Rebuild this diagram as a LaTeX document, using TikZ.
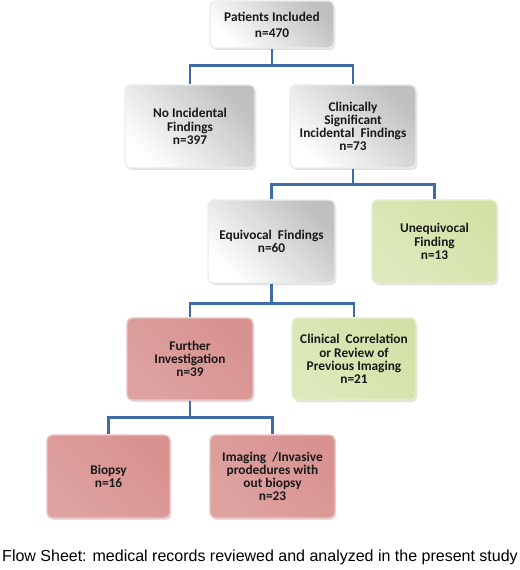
\documentclass[tikz,border=0pt]{standalone}
\usepackage{fontspec}
\setmainfont{Carlito}
\newfontfamily\capfont{Liberation Sans}
\usetikzlibrary{positioning,shadows}
\definecolor{lineblue}{RGB}{62,108,168}
\definecolor{boxgrey}{RGB}{192,192,192}
\definecolor{boxgreen}{RGB}{210,226,166}
\definecolor{boxpink}{RGB}{216,146,144}

\begin{document}
\begin{tikzpicture}[x=0.75pt,y=-0.75pt,
  box/.style={rounded corners=4pt,align=center,font=\fontsize{10}{9.9}\selectfont\bfseries,
    text=black!90,line width=1pt,drop shadow={opacity=0.25,shadow xshift=1pt,shadow yshift=-1.5pt}},
  greybox/.style={box,draw=white!85!gray,left color=white,right color=boxgrey,shading angle=135},
  greenbox/.style={box,draw=boxgreen!55!white,left color=boxgreen!75!white,right color=boxgreen,shading angle=135},
  pinkbox/.style={box,draw=boxpink!55!white,left color=boxpink!85!white,right color=boxpink,shading angle=135},
  link/.style={lineblue,line width=2pt}]
\useasboundingbox (0,0) rectangle (520,570);
% level 1
\node[greybox,minimum width=124*0.75pt,minimum height=47*0.75pt] (incl) at (272,24.5) {Patients Included\\[2pt]n=470};
% level 2
\node[greybox,minimum width=130*0.75pt,minimum height=83*0.75pt] (noinc) at (190,126.5) {No Incidental\\Findings\\n=397};
\node[greybox,minimum width=126*0.75pt,minimum height=83*0.75pt] (clin) at (353,126.5) {Clinically\\Significant\\Incidental\ \ Findings\\n=73};
% level 3
\node[greybox,minimum width=127*0.75pt,minimum height=83*0.75pt] (equiv) at (271.5,241.5) {Equivocal\ \ Findings\\n=60};
\node[greenbox,minimum width=125*0.75pt,minimum height=83*0.75pt] (unequiv) at (434.5,241.5) {Unequivocal\\Finding\\n=13};
% level 4
\node[pinkbox,minimum width=126*0.75pt,minimum height=82*0.75pt] (further) at (190,359) {Further\\Investigation\\n=39};
\node[greenbox,minimum width=124*0.75pt,minimum height=82*0.75pt] (corr) at (354,359) {Clinical\ \ Correlation\\or Review of\\Previous Imaging\\n=21};
% level 5
\node[pinkbox,minimum width=123*0.75pt,minimum height=83*0.75pt] (biopsy) at (108.5,476.5) {Biopsy\\n=16};
\node[pinkbox,minimum width=125*0.75pt,minimum height=83*0.75pt] (imaging) at (272.5,476.5) {Imaging\ \ /Invasive\\prodedures with\\out biopsy\\n=23};
% connectors
\draw[link] (incl.south) -- ++(0,17) -| (noinc.north);
\draw[link] (incl.south) -- ++(0,17) -| (clin.north);
\draw[link] (clin.south) -- ++(0,16) -| (equiv.north);
\draw[link] (clin.south) -- ++(0,16) -| (unequiv.north);
\draw[link] (equiv.south) -- ++(0,20) -| (further.north);
\draw[link] (equiv.south) -- ++(0,20) -| (corr.north);
\draw[link] (further.south) -- ++(0,17) -| (biopsy.north);
\draw[link] (further.south) -- ++(0,17) -| (imaging.north);
% caption
\node[font=\capfont\fontsize{12}{14}\selectfont] (caption) at (260,557) {Flow Sheet: medical records reviewed and analyzed in the present study};
\end{tikzpicture}
\end{document}
